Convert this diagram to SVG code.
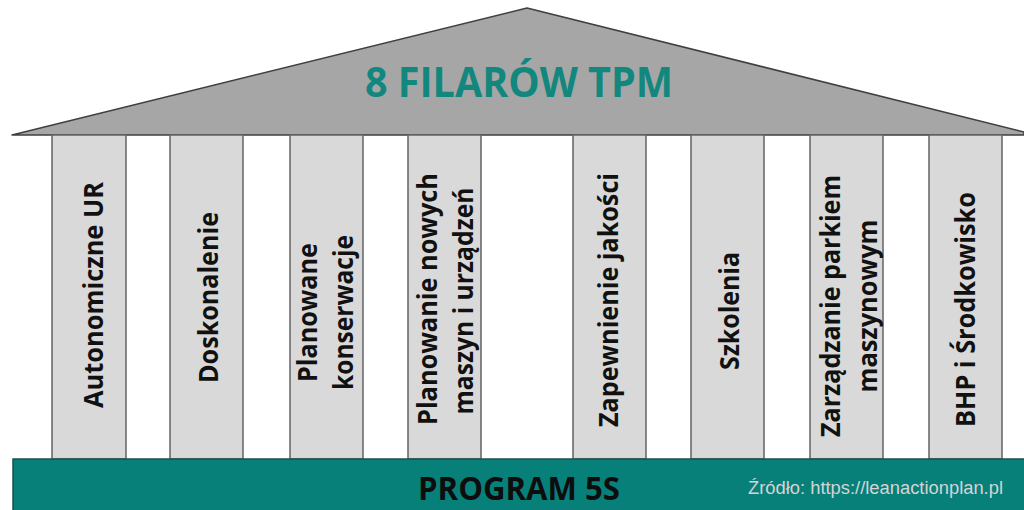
<svg xmlns="http://www.w3.org/2000/svg" width="1024" height="510" viewBox="0 0 1024 510">
  <style>
    .pillar { fill: #d9d9d9; stroke: #636363; stroke-width: 1.5; }
    .ptxt { font-family: "Open Sans", "DejaVu Sans", sans-serif; font-weight: 700; font-size: 26.5px; fill: #111111; text-anchor: middle; }
    .title { font-family: "Open Sans", "DejaVu Sans", sans-serif; font-weight: 700; font-size: 42px; fill: #12877e; text-anchor: middle; }
    .base { font-family: "Open Sans", "DejaVu Sans", sans-serif; font-weight: 700; font-size: 32px; fill: #0d0d0d; text-anchor: middle; }
    .src { font-family: "Liberation Sans", Arial, sans-serif; font-size: 18px; fill: #d4d4d4; }
  </style>
  <rect width="1024" height="510" fill="#ffffff"/>

  <g id="roof">
    <polygon points="12,135 527,8 1024,132 1024,135" fill="#a6a6a6" stroke="#3f3f3f" stroke-width="1.5" stroke-linejoin="round"/>
    <text class="title" x="519" y="97" textLength="308" lengthAdjust="spacingAndGlyphs">8 FILARÓW TPM</text>
  </g>

  <g id="pillar-1">
    <rect class="pillar" x="52" y="135" width="74" height="324"/>
    <text class="ptxt" transform="translate(103,295) rotate(-90)" textLength="226" lengthAdjust="spacingAndGlyphs">Autonomiczne UR</text>
  </g>
  <g id="pillar-2">
    <rect class="pillar" x="170" y="135" width="73" height="324"/>
    <text class="ptxt" transform="translate(218,297.5) rotate(-90)" textLength="171" lengthAdjust="spacingAndGlyphs">Doskonalenie</text>
  </g>
  <g id="pillar-3">
    <rect class="pillar" x="290" y="135" width="73" height="324"/>
    <text class="ptxt" transform="translate(317,312.5) rotate(-90)" textLength="139" lengthAdjust="spacingAndGlyphs">Planowane</text>
    <text class="ptxt" transform="translate(353,312.5) rotate(-90)" textLength="155" lengthAdjust="spacingAndGlyphs">konserwacje</text>
  </g>
  <g id="pillar-4">
    <rect class="pillar" x="408" y="135" width="73" height="324"/>
    <text class="ptxt" transform="translate(437,299) rotate(-90)" textLength="252" lengthAdjust="spacingAndGlyphs">Planowanie nowych</text>
    <text class="ptxt" transform="translate(473,301) rotate(-90)" textLength="227" lengthAdjust="spacingAndGlyphs">maszyn i urządzeń</text>
  </g>
  <g id="pillar-5">
    <rect class="pillar" x="573" y="135" width="73" height="324"/>
    <text class="ptxt" transform="translate(618,300) rotate(-90)" textLength="254" lengthAdjust="spacingAndGlyphs">Zapewnienie jakości</text>
  </g>
  <g id="pillar-6">
    <rect class="pillar" x="691" y="135" width="73" height="324"/>
    <text class="ptxt" transform="translate(739,311) rotate(-90)" textLength="118" lengthAdjust="spacingAndGlyphs">Szkolenia</text>
  </g>
  <g id="pillar-7">
    <rect class="pillar" x="810" y="135" width="73" height="324"/>
    <text class="ptxt" transform="translate(840,306) rotate(-90)" textLength="262" lengthAdjust="spacingAndGlyphs">Zarządzanie parkiem</text>
    <text class="ptxt" transform="translate(877,306) rotate(-90)" textLength="173" lengthAdjust="spacingAndGlyphs">maszynowym</text>
  </g>
  <g id="pillar-8">
    <rect class="pillar" x="929" y="135" width="73" height="324"/>
    <text class="ptxt" transform="translate(975,309.5) rotate(-90)" textLength="235" lengthAdjust="spacingAndGlyphs">BHP i Środkowisko</text>
  </g>

  <g id="foundation">
    <rect x="13" y="459" width="1013" height="53" fill="#08807a" stroke="#1f4f4c" stroke-width="1.5"/>
    <text class="base" x="519" y="500" textLength="202" lengthAdjust="spacingAndGlyphs">PROGRAM 5S</text>
    <text class="src" x="748" y="494" textLength="255" lengthAdjust="spacingAndGlyphs">Źródło: https://leanactionplan.pl</text>
  </g>

  <g id="connectors"></g>
</svg>
